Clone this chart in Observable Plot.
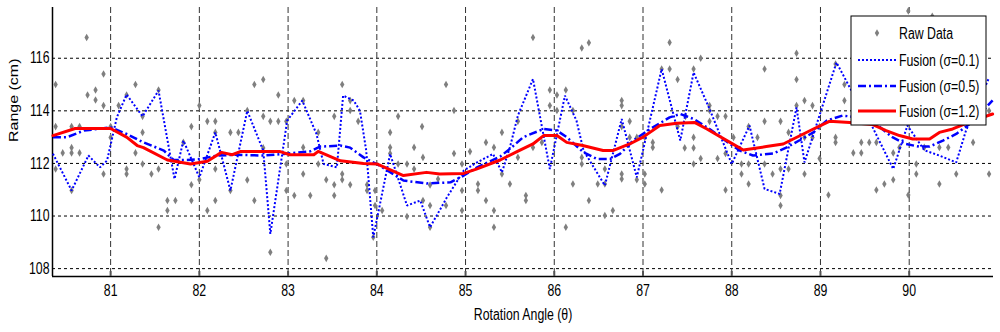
<!DOCTYPE html>
<html>
<head>
<meta charset="utf-8">
<script src="https://cdn.jsdelivr.net/npm/d3@7"></script>
<script src="https://cdn.jsdelivr.net/npm/@observablehq/plot@0.6"></script>
<style>
  html, body { margin: 0; padding: 0; background: #fff; }
  #chart svg { display: block; }
</style>
</head>
<body>
<div id="chart"></div>
<script>
// ---------- data ----------
const xDomain = [80.345, 90.95];
const yDomain = [107.7, 117.93];
const xTicks = [81, 82, 83, 84, 85, 86, 87, 88, 89, 90];
const yTicks = [108, 110, 112, 114, 116];
const xLabel = "Rotation Angle (θ)";
const yLabel = "Range (cm)";
const seriesNames = ["Raw Data", "Fusion (σ=0.1)", "Fusion (σ=0.5)", "Fusion (σ=1.2)"];

// raw measurements [angle, range]
const rawData = [
  [80.38,115.0],[80.38,113.4],[80.38,111.79],[80.46,112.4],[80.56,113.4],[80.56,112.6],[80.56,112.4],[80.56,110.97],
  [80.65,113.4],[80.65,112.4],[80.73,116.79],[80.74,114.6],[80.83,114.79],[80.83,114.41],[80.92,115.4],[80.92,114.2],
  [80.92,111.6],[81.0,113.4],[81.0,112.99],[81.09,114.2],[81.18,111.79],[81.18,111.6],[81.18,114.6],[81.28,115.0],
  [81.28,112.4],[81.36,113.79],[81.36,113.18],[81.36,111.98],[81.46,111.6],[81.54,114.79],[81.54,111.79],[81.54,109.57],
  [81.64,110.59],[81.64,110.21],[81.73,110.59],[81.82,112.8],[81.91,113.4],[81.91,111.19],[81.91,110.59],[82.0,114.2],
  [82.0,111.38],[82.09,113.6],[82.09,110.21],[82.18,113.6],[82.18,113.18],[82.18,111.79],[82.18,110.59],[82.35,113.18],
  [82.35,110.97],[82.44,113.18],[82.54,114.01],[82.54,111.37],[82.62,115.0],[82.62,110.59],[82.72,115.19],[82.72,113.79],
  [82.72,112.59],[82.80,113.6],[82.80,108.62],[82.89,113.6],[82.89,114.6],[82.98,113.6],[82.98,111.98],[82.98,110.97],
  [83.07,114.39],[83.07,110.78],[83.17,114.39],[83.17,112.61],[83.17,111.6],[83.25,110.78],[83.34,113.18],[83.34,111.98],
  [83.43,111.38],[83.43,108.39],[83.52,113.79],[83.52,111.19],[83.52,110.78],[83.61,115.0],[83.61,111.6],[83.61,111.38],
  [83.70,114.39],[83.70,114.01],[83.70,111.19],[83.79,113.6],[83.89,111.19],[83.89,110.97],[83.98,110.97],[83.98,110.40],
  [83.96,109.19],[84.06,110.21],[84.15,113.18],[84.15,112.61],[84.15,112.38],[84.24,113.79],[84.24,111.98],[84.34,111.98],
  [84.34,109.98],[84.42,112.61],[84.42,111.79],[84.51,113.4],[84.52,112.23],[84.52,110.59],[84.60,111.18],[84.60,110.40],
  [84.60,109.57],[84.69,111.41],[84.78,115.0],[84.78,110.40],[84.87,114.01],[84.87,112.38],[84.96,111.98],[84.96,110.97],
  [84.96,110.21],[85.05,112.45],[85.14,111.22],[85.14,110.97],[85.23,112.80],[85.23,110.59],[85.32,112.61],[85.32,110.21],
  [85.32,109.57],[85.41,113.18],[85.41,111.60],[85.50,111.22],[85.59,113.60],[85.59,112.23],[85.68,110.78],[85.68,110.59],
  [85.76,116.79],[85.76,112.61],[85.86,112.80],[85.95,114.79],[85.95,114.20],[86.03,114.60],[86.03,114.01],[86.13,114.79],
  [86.13,109.57],[86.21,114.01],[86.21,111.22],[86.31,116.39],[86.31,112.23],[86.31,111.98],[86.39,116.59],[86.39,110.59],
  [86.49,111.22],[86.57,111.79],[86.57,110.02],[86.57,111.22],[86.66,110.21],[86.76,114.39],[86.76,114.20],[86.76,113.40],
  [86.76,111.60],[86.76,111.41],[86.85,113.60],[86.85,112.99],[86.93,112.99],[86.93,111.38],[87.02,112.99],[87.02,111.60],
  [87.02,111.22],[87.11,112.80],[87.11,112.61],[87.21,110.99],[87.21,115.59],[87.30,116.60],[87.30,115.59],[87.39,115.19],
  [87.39,113.40],[87.48,113.79],[87.47,112.59],[87.57,115.59],[87.57,112.99],[87.57,112.59],[87.57,111.98],[87.65,116.0],
  [87.65,112.19],[87.75,114.20],[87.75,114.01],[87.75,113.60],[87.84,113.79],[87.84,112.19],[87.93,113.79],[87.93,112.38],
  [87.93,110.99],[88.02,112.99],[88.11,111.98],[88.11,111.60],[88.19,113.40],[88.19,111.98],[88.19,111.22],[88.29,112.99],
  [88.37,115.59],[88.37,113.60],[88.37,111.98],[88.46,111.60],[88.55,113.60],[88.55,111.79],[88.55,110.78],[88.55,110.40],
  [88.64,113.18],[88.64,111.79],[88.73,116.19],[88.73,115.19],[88.73,114.20],[88.82,114.39],[88.82,112.99],[88.82,111.60],
  [88.91,114.20],[88.91,112.99],[88.99,113.40],[88.99,112.19],[89.09,110.80],[89.17,115.78],[89.17,112.99],[89.17,112.80],
  [89.27,115.0],[89.27,114.39],[89.37,112.40],[89.46,112.80],[89.46,112.40],[89.55,112.80],[89.63,112.80],[89.63,110.99],
  [89.72,111.22],[89.82,112.40],[89.82,111.38],[89.89,112.61],[89.99,110.80],[90.08,111.98],[90.08,111.60],[90.17,112.61],
  [89.99,117.8],[90.26,117.6],[90.34,112.61],[90.34,111.22],[90.44,112.61],[90.53,111.60],[90.72,112.80],[90.90,111.60],[90.90,114.0]
];

// Fusion (σ=0.1)
const fusion01 = [
  [80.35,112.37],[80.56,110.97],[80.75,112.30],[80.88,111.85],[80.96,112.11],[81.07,113.75],[81.18,114.62],[81.36,113.79],
  [81.54,114.77],[81.72,111.41],[81.82,112.87],[82.0,111.47],[82.18,113.18],[82.35,110.97],[82.54,114.0],[82.72,112.49],
  [82.80,109.32],[82.99,113.63],[83.16,114.39],[83.32,113.12],[83.40,111.98],[83.55,111.85],[83.62,114.58],[83.74,114.39],
  [83.81,114.0],[83.88,112.5],[83.96,109.19],[84.15,112.36],[84.34,110.40],[84.49,110.59],[84.60,109.57],[84.79,110.71],
  [84.98,111.73],[85.13,112.04],[85.31,112.36],[85.41,111.66],[85.50,112.61],[85.59,113.82],[85.76,115.21],[85.95,111.79],
  [86.12,114.58],[86.25,113.63],[86.33,112.49],[86.57,111.16],[86.76,113.69],[86.93,111.47],[87.21,115.59],[87.42,112.87],
  [87.57,115.46],[87.75,114.07],[88.0,111.98],[88.20,113.44],[88.37,111.03],[88.54,110.84],[88.73,114.13],[88.82,112.04],
  [89.18,115.84],[89.33,114.89],[89.55,113.63],[89.82,111.79],[89.98,113.44],[90.17,112.5],[90.34,112.3],[90.53,112.04],
  [90.64,113.25],[90.90,115.26]
];

// Fusion (σ=0.5)
const fusion05 = [
  [80.35,113.0],[80.51,113.0],[80.70,113.25],[81.0,113.37],[81.18,113.12],[81.37,112.8],[81.60,112.49],[81.71,112.13],
  [81.86,112.13],[82.01,112.17],[82.20,112.3],[82.42,112.33],[82.72,112.3],[82.95,112.36],[83.25,112.46],[83.36,112.64],
  [83.59,112.68],[83.70,112.6],[83.85,112.23],[84.04,111.9],[84.30,111.35],[84.56,111.24],[84.83,111.28],[84.98,111.54],
  [85.13,111.85],[85.39,112.26],[85.52,112.61],[85.65,113.0],[85.88,113.31],[86.03,113.25],[86.14,113.0],[86.33,112.42],
  [86.48,112.17],[86.63,112.17],[86.74,112.36],[86.89,112.87],[87.08,113.31],[87.30,113.75],[87.42,113.88],[87.57,113.69],
  [87.75,113.31],[87.98,112.74],[88.09,112.49],[88.24,112.3],[88.47,112.38],[88.62,112.61],[88.77,112.89],[88.92,113.18],
  [89.07,113.63],[89.25,113.82],[89.55,113.7],[89.81,113.0],[89.96,112.74],[90.11,112.64],[90.23,112.64],[90.38,112.87],
  [90.53,113.12],[90.68,113.5],[90.83,114.0],[90.94,114.4]
];

// Fusion (σ=1.2)
const fusion12 = [
  [80.35,113.06],[80.60,113.33],[81.0,113.33],[81.18,113.0],[81.30,112.68],[81.37,112.6],[81.64,112.13],[81.90,111.98],
  [82.09,112.08],[82.25,112.42],[82.37,112.33],[82.46,112.45],[82.91,112.45],[83.02,112.33],[83.29,112.33],[83.34,112.46],
  [83.59,112.1],[83.85,112.0],[84.0,111.98],[84.30,111.54],[84.56,111.66],[84.71,111.6],[84.98,111.62],[85.13,111.79],
  [85.39,112.13],[85.58,112.45],[85.76,112.74],[85.88,113.06],[86.03,113.06],[86.14,112.8],[86.32,112.68],[86.55,112.49],
  [86.66,112.49],[86.85,112.74],[87.0,113.0],[87.19,113.44],[87.38,113.53],[87.58,113.56],[87.72,113.31],[87.98,112.8],
  [88.13,112.51],[88.39,112.64],[88.58,112.74],[88.92,113.31],[89.10,113.6],[89.33,113.56],[89.59,113.48],[89.74,113.25],
  [89.89,113.06],[90.04,112.93],[90.23,112.93],[90.34,113.18],[90.49,113.31],[90.72,113.63],[90.94,113.88]
];

// ---------- styles ----------
const FONT = "'Liberation Sans', Arial, sans-serif";
const FS = 16;
const TEXT_SQUEEZE = 0.77;          // the reference picture is compressed horizontally
const rawColor = "#7f7f7f";
const blue = "#0000ff";
const red = "#ff0000";
const dotDash = "2,2";
const dashDot = "8,3,2,3";

const chart = Plot.plot({
  width: 1000,
  height: 332,
  marginLeft: 52,
  marginRight: 7,
  marginTop: 7,
  marginBottom: 56,
  style: { fontFamily: FONT, fontSize: FS + "px", color: "#000", background: "#fff", overflow: "visible" },
  x: { domain: xDomain, ticks: xTicks },
  y: { domain: yDomain, ticks: yTicks },
  marks: [
    Plot.gridY(yTicks, { stroke: "#000", strokeOpacity: 1, strokeWidth: 1, strokeDasharray: "3,3" }),
    Plot.gridX(xTicks, { stroke: "#333", strokeOpacity: 1, strokeWidth: 1, strokeDasharray: "6,3" }),
    Plot.ruleY([yDomain[0]], { stroke: "#000", strokeWidth: 1.5 }),
    Plot.ruleX([xDomain[0]], { stroke: "#000", strokeWidth: 1.5 }),
    Plot.axisX(xTicks, { tickSize: 0, tickPadding: 8, label: null, fontSize: FS }),
    Plot.axisX(xTicks, { tickSize: 5, text: null, label: null, dy: -5, stroke: "#555", strokeWidth: 2 }),
    Plot.axisY(yTicks, { tickSize: 0, tickPadding: 3, label: null, fontSize: FS }),
    Plot.dot(rawData, { x: d => d[0], y: d => d[1], symbol: "diamond", r: 2.3, fill: rawColor, stroke: "none" }),
    Plot.line(fusion01, { x: d => d[0], y: d => d[1], stroke: blue, strokeWidth: 2, strokeDasharray: dotDash, strokeLinecap: "butt", strokeLinejoin: "miter", curve: "linear" }),
    Plot.line(fusion05, { x: d => d[0], y: d => d[1], stroke: blue, strokeWidth: 2.5, strokeDasharray: dashDot, strokeLinecap: "butt", strokeLinejoin: "miter", curve: "linear" }),
    Plot.line(fusion12, { x: d => d[0], y: d => d[1], stroke: red, strokeWidth: 3, curve: "linear" }),
    Plot.text([xLabel], { frameAnchor: "bottom", dy: 38, fontSize: FS, lineAnchor: "middle" }),
    Plot.text([yLabel], { frameAnchor: "left", dx: -38, rotate: -90, fontSize: FS, lineAnchor: "middle" })
  ]
});

// ---------- legend (inside the axes, top right) ----------
const svg = d3.select(chart);
const lg = svg.append("g").attr("font-family", FONT).attr("font-size", FS).attr("text-anchor", "start");
const box = { x: 851, y: 16, w: 135, h: 109 };
lg.append("rect").attr("x", box.x).attr("y", box.y).attr("width", box.w).attr("height", box.h)
  .attr("fill", "#fff").attr("stroke", "#000").attr("stroke-width", 1);
const rowY = [33, 60, 86, 111];
const sx1 = 858, sx2 = 896, tx = 899;
lg.append("path").attr("d", d3.symbol(d3.symbolDiamond, Math.PI * 2.3 * 2.3)())
  .attr("transform", `translate(${(sx1 + sx2) / 2},${rowY[0]})`).attr("fill", rawColor);
lg.append("line").attr("x1", sx1).attr("x2", sx2).attr("y1", rowY[1]).attr("y2", rowY[1])
  .attr("stroke", blue).attr("stroke-width", 2).attr("stroke-dasharray", dotDash);
lg.append("line").attr("x1", sx1).attr("x2", sx2).attr("y1", rowY[2]).attr("y2", rowY[2])
  .attr("stroke", blue).attr("stroke-width", 2.5).attr("stroke-dasharray", dashDot);
lg.append("line").attr("x1", sx1).attr("x2", sx2).attr("y1", rowY[3]).attr("y2", rowY[3])
  .attr("stroke", red).attr("stroke-width", 3);
seriesNames.forEach((name, i) => {
  lg.append("text").attr("x", tx).attr("y", rowY[i]).attr("dy", "0.35em").text(name);
});

document.getElementById("chart").appendChild(chart);

// The reference image is squeezed horizontally: condense horizontal text along x,
// and the rotated y label across its thickness (screen x).
svg.selectAll("text").each(function () {
  const el = this;
  const bb = el.getBBox();
  const t = el.getAttribute("transform") || "";
  if (/rotate/.test(t)) {
    const cy = bb.y + bb.height / 2;
    el.setAttribute("transform", `${t} translate(0,${cy}) scale(1,${TEXT_SQUEEZE}) translate(0,${-cy})`);
  } else {
    const anchor = getComputedStyle(el).textAnchor;
    const ax = anchor === "end" ? bb.x + bb.width : anchor === "start" ? bb.x : bb.x + bb.width / 2;
    el.setAttribute("transform", `${t} translate(${ax},0) scale(${TEXT_SQUEEZE},1) translate(${-ax},0)`);
  }
});
</script>
</body>
</html>
